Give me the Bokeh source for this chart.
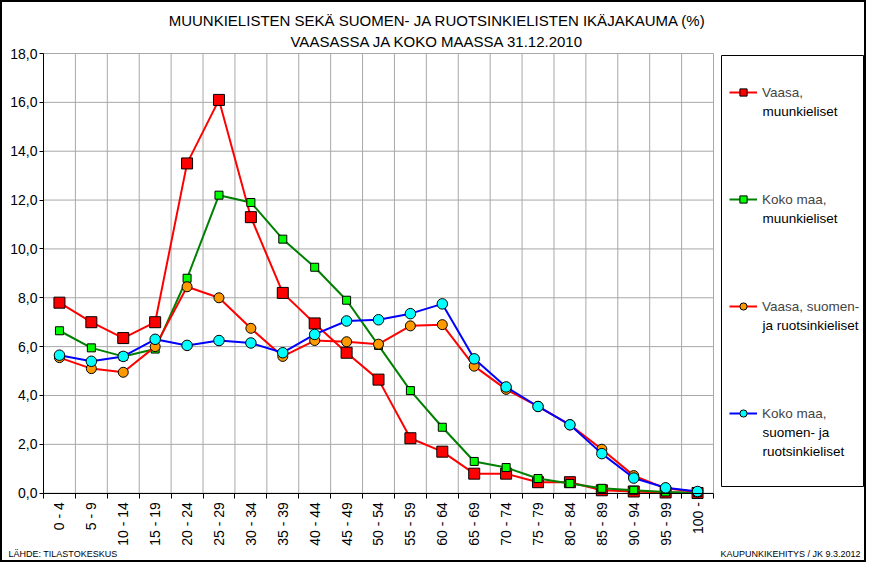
from bokeh.plotting import figure
from bokeh.models import (Range1d, FixedTicker, Legend, LegendItem, Label, BoxAnnotation,
                          CustomJSTickFormatter, ColumnDataSource)
from bokeh.embed import file_html
from bokeh.resources import INLINE

age_groups = ["0 - 4", "5 - 9", "10 - 14", "15 - 19", "20 - 24", "25 - 29", "30 - 34",
              "35 - 39", "40 - 44", "45 - 49", "50 - 54", "55 - 59", "60 - 64", "65 - 69",
              "70 - 74", "75 - 79", "80 - 84", "85 - 89", "90 - 94", "95 - 99", "100 -"]

vaasa_muunkieliset = [7.8, 7.0, 6.35, 7.0, 13.5, 16.1, 11.3, 8.2, 6.95, 5.75, 4.65,
                      2.25, 1.7, 0.8, 0.8, 0.45, 0.45, 0.12, 0.07, 0.03, 0.01]
kokomaa_muunkieliset = [6.65, 5.95, 5.6, 5.9, 8.8, 12.2, 11.9, 10.4, 9.25, 7.9, 6.05,
                        4.2, 2.7, 1.3, 1.05, 0.6, 0.4, 0.2, 0.12, 0.05, 0.02]
vaasa_suomi_ruotsi = [5.55, 5.1, 4.95, 6.0, 8.45, 8.0, 6.75, 5.6, 6.25, 6.2, 6.1,
                      6.85, 6.9, 5.2, 4.25, 3.55, 2.8, 1.8, 0.72, 0.2, 0.05]
kokomaa_suomi_ruotsi = [5.65, 5.4, 5.6, 6.3, 6.05, 6.25, 6.15, 5.75, 6.5, 7.05, 7.1,
                        7.35, 7.75, 5.5, 4.35, 3.55, 2.8, 1.62, 0.62, 0.22, 0.07]

series_names = [["Vaasa,", "muunkieliset"],
                ["Koko maa,", "muunkieliset"],
                ["Vaasa, suomen-", "ja ruotsinkieliset"],
                ["Koko maa,", "suomen- ja", "ruotsinkieliset"]]

title_lines = ["MUUNKIELISTEN SEKÄ SUOMEN- JA RUOTSINKIELISTEN IKÄJAKAUMA (%)",
               "VAASASSA JA KOKO MAASSA 31.12.2010"]
source_text = "LÄHDE: TILASTOKESKUS"
author_text = "KAUPUNKIKEHITYS / JK 9.3.2012"

Y_MAX = 18
Y_STEP = 2

# ---- layout (pixels inside the figure) ----
W, H = 866, 562
FL, FR, FT, FB = 41, 711, 51, 490.7       # plot area edges
N = len(age_groups)
px_x = (FR - FL) / N
px_y = (FB - FT) / Y_MAX
FONT = "Liberation Sans"

p = figure(width=W, height=H, output_backend="svg", toolbar_location=None,
           x_range=Range1d(-FL / px_x, N + (W - FR) / px_x),
           y_range=Range1d(-(H - FB) / px_y, Y_MAX + FT / px_y),
           min_border=0, min_border_left=0, min_border_right=0,
           min_border_top=0, min_border_bottom=0)
p.styles = {"border": "2px solid black"}
p.background_fill_color = "white"
p.border_fill_color = "white"
p.outline_line_color = None
p.grid.visible = False

xs = [i + 0.5 for i in range(N)]
yticks = list(range(0, Y_MAX + 1, Y_STEP))

# grid lines of the plot area (including its grey top and right edge)
p.segment(x0=[0] * len(yticks), x1=[N] * len(yticks), y0=yticks, y1=yticks,
          line_color="#a8a8a8", line_width=1)
p.segment(x0=list(range(N + 1)), x1=list(range(N + 1)), y0=[0] * (N + 1),
          y1=[Y_MAX] * (N + 1), line_color="#a8a8a8", line_width=1)

# x axis
xa = p.xaxis[0]
xa.fixed_location = 0
xa.bounds = (0, N)
xa.ticker = FixedTicker(ticks=xs, minor_ticks=list(range(N + 1)))
xa.formatter = CustomJSTickFormatter(args=dict(labels=age_groups),
                                     code="return labels[Math.floor(tick)];")
xa.major_tick_line_color = None
xa.major_tick_out = 5
xa.major_tick_in = 0
xa.minor_tick_line_color = "black"
xa.minor_tick_out = 5
xa.minor_tick_in = 0
xa.major_label_orientation = 3.14159265 / 2
xa.major_label_text_font = FONT
xa.major_label_text_font_size = "14px"
xa.major_label_text_color = "black"
xa.major_label_standoff = 4
xa.axis_line_color = "black"

# y axis
ya = p.yaxis[0]
ya.fixed_location = 0
ya.bounds = (0, Y_MAX)
ya.ticker = FixedTicker(ticks=yticks)
ya.formatter = CustomJSTickFormatter(code="return tick.toFixed(1).replace('.', ',');")
ya.major_tick_out = 4
ya.major_tick_in = 0
ya.minor_tick_line_color = None
ya.major_label_text_font = FONT
ya.major_label_text_font_size = "14px"
ya.major_label_text_color = "black"
ya.major_label_standoff = 2
ya.axis_line_color = "black"

styles = [
    dict(y=vaasa_muunkieliset, line="#ff0000", marker="square", fill="#ff0000", size=11),
    dict(y=kokomaa_muunkieliset, line="#008000", marker="square", fill="#00ff00", size=8),
    dict(y=vaasa_suomi_ruotsi, line="#ff0000", marker="circle", fill="#ff9900", size=10),
    dict(y=kokomaa_suomi_ruotsi, line="#0000ff", marker="circle", fill="#00ffff", size=10.5),
]

items = []
for name, st in zip(series_names, styles):
    src = ColumnDataSource(dict(x=xs, y=st["y"]))
    l = p.line("x", "y", source=src, line_color=st["line"], line_width=2)
    s = p.scatter("x", "y", source=src, marker=st["marker"], size=st["size"],
                  fill_color=st["fill"], line_color="black", line_width=1)
    items.append(LegendItem(label=name[0], renderers=[l, s]))

# ---- legend ----
LG_X, LG_TOP, ITEM_H, ITEM_STEP = 727, 81, 18, 107
LINE_GAP = 19
legend = Legend(items=items, location=(LG_X, H - (LG_TOP + 4 * ITEM_H + 3 * (ITEM_STEP - ITEM_H))),
                orientation="vertical", border_line_color=None,
                background_fill_alpha=0, label_text_font=FONT,
                label_text_font_size="13.5px", glyph_width=28, glyph_height=ITEM_H,
                label_height=ITEM_H, label_standoff=5, padding=0,
                spacing=ITEM_STEP - ITEM_H, margin=0)
p.add_layout(legend, "center")
p.add_layout(BoxAnnotation(left=719, right=861, top=H - 53, bottom=H - 484,
                           left_units="screen", right_units="screen",
                           top_units="screen", bottom_units="screen",
                           fill_color=None, fill_alpha=0, line_color="black",
                           line_width=1, line_alpha=1, level="overlay"))
for k, name in enumerate(series_names):
    cy = LG_TOP + ITEM_H / 2 + k * ITEM_STEP
    for j, ln in enumerate(name[1:], start=1):
        p.add_layout(Label(x=LG_X + 28 + 5, y=H - (cy + j * LINE_GAP),
                           x_units="screen", y_units="screen", text=ln,
                           text_align="left", text_baseline="middle", text_font=FONT,
                           text_font_size="13.5px", text_color="black"))

# ---- titles and footers ----
for txt, yy in zip(title_lines, [18.3, 38.7]):
    p.add_layout(Label(x=435, y=H - yy, x_units="screen", y_units="screen", text=txt,
                       text_align="center", text_baseline="middle", text_font=FONT,
                       text_font_size="15px", text_color="black"))

FOOT_Y = 551
p.add_layout(Label(x=6, y=H - FOOT_Y, x_units="screen", y_units="screen", text=source_text,
                   text_align="left", text_baseline="middle", text_font=FONT,
                   text_font_size="9px", text_color="black"))
p.add_layout(Label(x=858, y=H - FOOT_Y, x_units="screen", y_units="screen", text=author_text,
                   text_align="right", text_baseline="middle", text_font=FONT,
                   text_font_size="9px", text_color="black"))

open("out.html", "w").write(file_html(p, INLINE))
